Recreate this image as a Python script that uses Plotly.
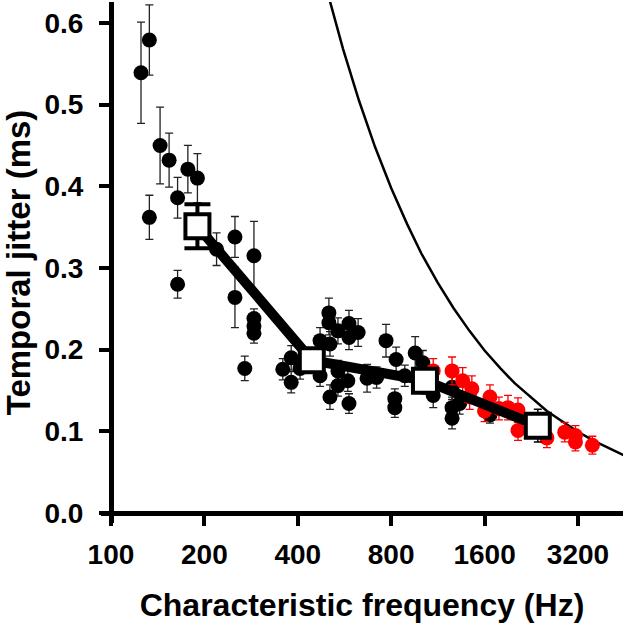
import plotly.graph_objects as go
import math

# Black units: characteristic frequency (Hz), jitter (ms), error (ms)
black_cf = [125, 133, 133, 144, 154, 164, 164, 177, 190, 219, 251, 251, 270, 289, 289, 289, 289,
            358, 381, 381, 407, 472, 472, 504, 504, 508, 508, 539, 539, 539, 585, 585, 580, 585,
            626, 669, 718, 770, 830, 822, 822, 885, 956, 1012, 1093, 1257, 1257, 1257, 1330, 1665]
black_jit = [0.539, 0.579, 0.362, 0.450, 0.432, 0.386, 0.280, 0.421, 0.410, 0.323, 0.338, 0.264,
             0.177, 0.315, 0.238, 0.229, 0.220, 0.176, 0.190, 0.160, 0.177, 0.211, 0.168, 0.245,
             0.233, 0.207, 0.142, 0.223, 0.174, 0.156, 0.232, 0.215, 0.162, 0.134, 0.221, 0.165,
             0.166, 0.211, 0.188, 0.140, 0.129, 0.168, 0.196, 0.184, 0.144, 0.154, 0.129, 0.116,
             0.134, 0.120]
black_err = [0.062, 0.043, 0.027, 0.047, 0.033, 0.025, 0.017, 0.029, 0.030, 0.020, 0.025, 0.037,
             0.015, 0.042, 0.012, 0.012, 0.012, 0.013, 0.015, 0.013, 0.013, 0.016, 0.013, 0.018,
             0.015, 0.015, 0.015, 0.016, 0.013, 0.013, 0.016, 0.015, 0.013, 0.012, 0.017, 0.017,
             0.013, 0.020, 0.015, 0.012, 0.012, 0.013, 0.020, 0.015, 0.015, 0.015, 0.013, 0.013,
             0.013, 0.010]

# Red units
red_cf = [1093, 1257, 1360, 1456, 1432, 1665, 1600, 1780, 1903, 2050, 2050, 2540, 2900, 3140, 3140, 3560]
red_jit = [0.174, 0.174, 0.162, 0.152, 0.142, 0.142, 0.125, 0.128, 0.129, 0.126, 0.101, 0.092,
           0.099, 0.095, 0.087, 0.083]
red_err = [0.015, 0.017, 0.016, 0.016, 0.015, 0.015, 0.013, 0.014, 0.015, 0.015, 0.012, 0.012,
           0.012, 0.012, 0.011, 0.011]

# Group means
mean_cf = [190, 444, 1028, 2375]
mean_jit = [0.351, 0.187, 0.162, 0.107]
mean_err = [0.027, 0.012, 0.016, 0.020]

# Reference curve
curve_cf = [500, 560, 630, 710, 800, 900, 1000, 1130, 1270, 1430, 1600, 1800, 2000, 2260,
            2540, 2850, 3200, 3600, 4000, 4500]
curve_jit = [0.636, 0.568, 0.505, 0.448, 0.398, 0.354, 0.318, 0.282, 0.251, 0.223, 0.199,
             0.177, 0.159, 0.141, 0.125, 0.112, 0.0995, 0.0884, 0.0796, 0.0707]

x_ticks = [100, 200, 400, 800, 1600, 3200]
y_ticks = [0.0, 0.1, 0.2, 0.3, 0.4, 0.5, 0.6]

FONT = "Liberation Sans"

fig = go.Figure()

fig.add_trace(go.Scatter(x=curve_cf, y=curve_jit, mode="lines",
                         line=dict(color="black", width=2.5), showlegend=False))

fig.add_trace(go.Scatter(
    x=black_cf, y=black_jit, mode="markers",
    marker=dict(color="black", size=15, line=dict(width=0)),
    error_y=dict(type="data", array=black_err, visible=True, color="#222222",
                 thickness=1.3, width=4),
    showlegend=False))

fig.add_trace(go.Scatter(
    x=red_cf, y=red_jit, mode="markers",
    marker=dict(color="#ff0000", size=15, line=dict(width=0)),
    error_y=dict(type="data", array=red_err, visible=True, color="#ff0000",
                 thickness=1.3, width=4),
    showlegend=False))

# thin error bars for the later means
fig.add_trace(go.Scatter(
    x=mean_cf[1:], y=mean_jit[1:], mode="markers",
    marker=dict(color="rgba(0,0,0,0)", size=1),
    error_y=dict(type="data", array=mean_err[1:], visible=True, color="black",
                 thickness=1.5, width=4),
    showlegend=False))
# thick error bar for the first mean
fig.add_trace(go.Scatter(
    x=mean_cf[:1], y=mean_jit[:1], mode="markers",
    marker=dict(color="rgba(0,0,0,0)", size=1),
    error_y=dict(type="data", array=mean_err[:1], visible=True, color="black",
                 thickness=4, width=13),
    showlegend=False))

fig.add_trace(go.Scatter(
    x=mean_cf, y=mean_jit, mode="lines+markers",
    line=dict(color="black", width=10),
    marker=dict(symbol="square", size=24, color="white", line=dict(color="black", width=4)),
    showlegend=False))

xmin, xmax = 92.9, 4469
ymin, ymax = -0.0122, 0.6256
xpos = (math.log10(100) - math.log10(xmin)) / (math.log10(xmax) - math.log10(xmin))
ypos = (0 - ymin) / (ymax - ymin)

fig.update_layout(
    width=626, height=639,
    margin=dict(l=101, r=3, t=2, b=116, autoexpand=False),
    plot_bgcolor="white", paper_bgcolor="white",
    font=dict(family=FONT, color="black"),
    xaxis=dict(type="log", range=[math.log10(xmin), math.log10(xmax)],
               anchor="free", position=ypos, automargin=False,
               tickvals=x_ticks, ticktext=[str(v) for v in x_ticks],
               showgrid=False, zeroline=False,
               showline=True, linecolor="black", linewidth=5,
               ticks="outside", ticklen=10, tickwidth=4, tickcolor="black",
               ticklabelstandoff=4,
               tickfont=dict(family=FONT, size=28, weight="bold"),
               title=dict(text="Characteristic frequency (Hz)",
                          font=dict(family=FONT, size=32, weight="bold"), standoff=24)),
    yaxis=dict(range=[ymin, ymax], anchor="free", position=xpos, automargin=False,
               tickvals=y_ticks, tickformat=".1f",
               showgrid=False, zeroline=False,
               showline=True, linecolor="black", linewidth=5,
               ticks="outside", ticklen=10, tickwidth=4, tickcolor="black",
               ticklabelstandoff=10,
               tickfont=dict(family=FONT, size=28, weight="bold"),
               title=dict(text="Temporal jitter (ms)",
                          font=dict(family=FONT, size=33, weight="bold"), standoff=22)),
)

fig.write_html("out.html", config={"displayModeBar": False},
               post_script="document.body.style.margin='0';document.body.style.padding='0';")
